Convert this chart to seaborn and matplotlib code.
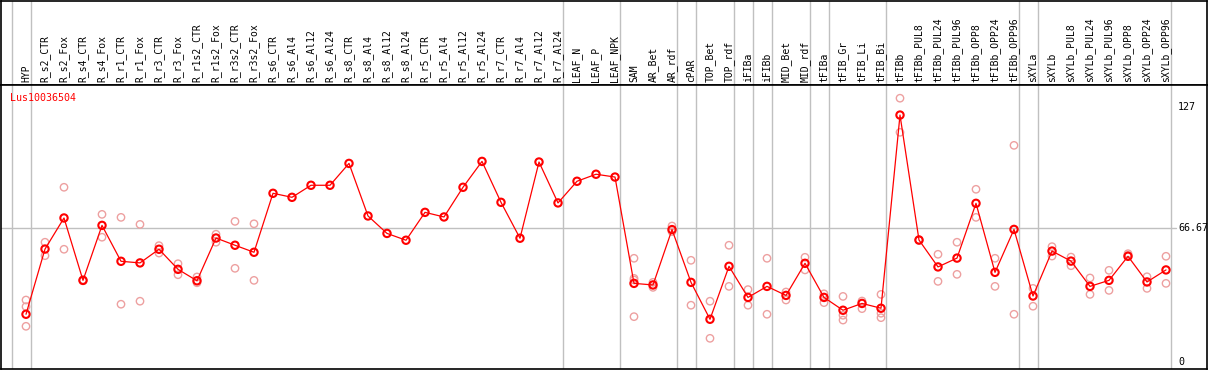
import numpy as np
import pandas as pd
import matplotlib
matplotlib.use("Agg")
import matplotlib.pyplot as plt
import matplotlib.transforms as mtransforms
import seaborn as sns

# ---------------- data ----------------
categories = [
    "HYP", "R_s2_CTR", "R_s2_Fox", "R_s4_CTR", "R_s4_Fox", "R_r1_CTR", "R_r1_Fox",
    "R_r3_CTR", "R_r3_Fox", "R_r1s2_CTR", "R_r1s2_Fox", "R_r3s2_CTR", "R_r3s2_Fox",
    "R_s6_CTR", "R_s6_Al4", "R_s6_Al12", "R_s6_Al24", "R_s8_CTR", "R_s8_Al4",
    "R_s8_Al12", "R_s8_Al24", "R_r5_CTR", "R_r5_Al4", "R_r5_Al12", "R_r5_Al24",
    "R_r7_CTR", "R_r7_Al4", "R_r7_Al12", "R_r7_Al24", "LEAF_N", "LEAF_P", "LEAF_NPK",
    "SAM", "AR_Bet", "AR_rdf", "cPAR", "TOP_Bet", "TOP_rdf", "iFIBa", "iFIBb",
    "MID_Bet", "MID_rdf", "tFIBa", "tFIB_Gr", "tFIB_Li", "tFIB_Bi", "tFIBb",
    "tFIBb_PUL8", "tFIBb_PUL24", "tFIBb_PUL96", "tFIBb_OPP8", "tFIBb_OPP24",
    "tFIBb_OPP96", "sXYLa", "sXYLb", "sXYLb_PUL8", "sXYLb_PUL24", "sXYLb_PUL96",
    "sXYLb_OPP8", "sXYLb_OPP24", "sXYLb_OPP96",
]

mean_values = [
    23.8, 56.3, 71.8, 40.7, 68.1, 50.2, 49.4, 56.2, 46.2, 40.5, 61.8, 58.2, 54.7,
    84.1, 82.1, 88.1, 88.1, 99.0, 72.8, 64.1, 60.7, 74.6, 72.3, 87.1, 100.0,
    79.6, 61.7, 99.7, 79.3, 90.1, 93.6, 92.2,
    39.2, 38.4, 66.0, 39.7, 21.3, 47.7, 32.2, 37.7, 33.2, 49.2, 32.2, 25.8, 29.2,
    26.8, 123.1, 60.8, 47.4, 51.8, 79.1, 44.7, 66.1, 32.9, 55.3, 50.3, 37.7, 40.7,
    52.7, 39.9, 45.9,
]

replicate_values = [
    [30.9, 27.6, 17.8], [59.7, 53.0], [87.1, 56.2], [40.5, 41.0], [73.6, 62.2],
    [72.1, 28.8], [68.6, 30.3], [58.0, 54.3], [49.0, 43.5], [42.4, 39.5],
    [63.7, 59.7], [70.1, 46.7], [68.9, 40.7],
    [], [], [], [], [], [], [], [], [], [], [], [], [], [], [], [], [], [], [],
    [51.7, 41.7, 40.9, 22.6], [39.7, 37.2], [67.8, 65.0], [50.7, 28.3],
    [30.3, 11.8], [58.2, 37.7], [36.1, 28.3], [51.7, 23.8], [34.9, 30.9],
    [52.2, 45.9], [34.0, 29.6], [32.7, 23.3, 20.9], [30.4, 26.6],
    [33.7, 24.3, 22.1], [131.5, 114.5], [61.0, 60.6], [53.7, 40.2], [59.7, 43.7],
    [86.1, 72.1], [51.7, 37.7], [108.0, 23.8], [36.7, 27.8], [57.5, 52.8],
    [52.3, 48.0], [41.9, 33.7], [45.7, 35.7], [54.0, 53.2], [42.5, 36.7],
    [52.7, 39.2],
]

# last category index of each group (-1 = left edge)
group_ends = [-1, 0, 28, 31, 34, 35, 37, 38, 39, 41, 42, 45, 52, 53, 60]

y_ticks = [127, 66.67, 0]
y_tick_labels = ["127", "66.67", "0"]
gene_name = "Lus10036504"

# ---------------- frames ----------------
idx = np.arange(len(categories))
df_mean = pd.DataFrame({"idx": idx, "value": mean_values, "sample": categories})
rep_rows = [(i, v) for i, vals in enumerate(replicate_values) for v in vals]
df_rep = pd.DataFrame(rep_rows, columns=["idx", "value"])

# ---------------- style ----------------
sns.set_style("white")
plt.rcParams["font.family"] = ["DejaVu Sans Mono"]

W, H = 1209, 370
fig = plt.figure(figsize=(W / 100, H / 100), dpi=100)

x_left = -25 / 19
x_right = (1207 - 26) / 19
y_bottom = (362 - 369) / 2.006
y_top = (362 - 85) / 2.006

ax_h = fig.add_axes([1 / W, (H - 85) / H, 1206 / W, 84.5 / H])
ax = fig.add_axes([1 / W, (H - 369) / H, 1206 / W, 284 / H])

for a in (ax_h, ax):
    a.set_xlim(x_left, x_right)
    a.set_xticks([])
    a.set_yticks([])
    a.set_xlabel("")
    a.set_ylabel("")
    for s in a.spines.values():
        s.set_color("black")
        s.set_linewidth(1.2)
        s.set_visible(True)
    for g in group_ends:
        a.axvline(g + 5 / 19, color="#c0c0c0", lw=1.0, zorder=0)

ax_h.set_ylim(0, 1)
ax.set_ylim(y_bottom, y_top)

# horizontal reference line
ax.axhline(66.67, xmin=0, xmax=(1177 - 1) / 1207, color="#c0c0c0", lw=1.0, zorder=0)

# header labels
trans = mtransforms.blended_transform_factory(ax_h.transData, ax_h.transAxes)
for i, name in enumerate(categories):
    ax_h.text(i, 0.03, name, rotation=90, ha="center", va="bottom",
              fontsize=7, color="black", transform=trans)

# replicates
sns.scatterplot(data=df_rep, x="idx", y="value", ax=ax, marker="o", s=28,
                facecolor="none", edgecolor="#eda0a0", linewidth=1.0,
                zorder=2, legend=False)
# mean line
sns.lineplot(data=df_mean, x="idx", y="value", ax=ax, color="red", lw=0.9,
             zorder=3, legend=False)
sns.scatterplot(data=df_mean, x="idx", y="value", ax=ax, marker="o", s=28,
                facecolor="none", edgecolor="red", linewidth=1.5,
                zorder=4, legend=False)
ax.set_xlabel("")
ax.set_ylabel("")
ax.set_xticks([])
ax.set_yticks([])

# right-side value labels
for v, lab in zip(y_ticks, y_tick_labels):
    ax.text((1178 - 26) / 19, v, lab, ha="left", va="center", fontsize=7.2,
            color="black")

ax.text((10 - 26) / 19, (362 - 98) / 2.006, gene_name, ha="left", va="center",
        fontsize=7.2, color="red")

fig.savefig("out.png", dpi=100)
